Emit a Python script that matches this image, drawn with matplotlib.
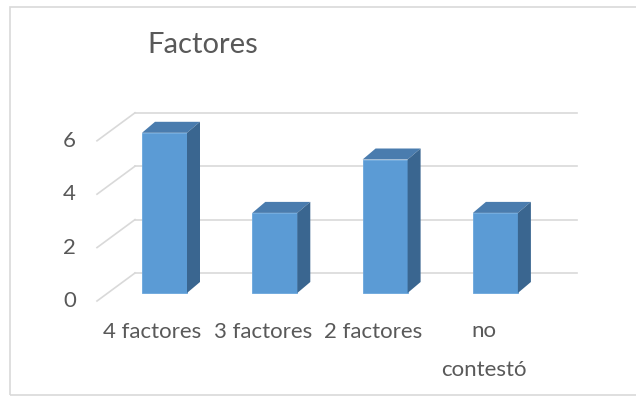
import matplotlib.pyplot as plt
from matplotlib.patches import Polygon, Rectangle
from matplotlib.lines import Line2D

plt.rcParams['font.family'] = ['Lato', 'DejaVu Sans']

# data
title = 'Factores'
categories = ['4 factores', '3 factores', '2 factores', 'no\ncontestó']
values = [6, 3, 5, 3]
ticks = [0, 2, 4, 6]

front_color = '#5B9BD5'
top_color = '#4A7CAE'
side_color = '#3A6690'
grid_color = '#D9D9D9'
text_color = '#595959'

W, H = 636, 396
fig = plt.figure(figsize=(W / 100, H / 100), dpi=100)
ax = fig.add_axes([0, 0, 1, 1])
ax.set_axis_off()

# pixel layout -> data scale: category step and value step in pixels
x0_px, step_px = 164.5, 110.3
y0_px, unit_px = H - 293, 26.7
ax.set_xlim((0 - x0_px) / step_px, (W - x0_px) / step_px)
ax.set_ylim((0 - y0_px) / unit_px, (H - y0_px) / unit_px)

# 3d depth offsets (data units)
bar_w = 45 / step_px
bar_dx, bar_dy = 13 / step_px, 11 / unit_px
wall_dy = 20 / unit_px                     # back wall above bar front
floor_dy = -8 / unit_px                    # front floor edge below bar front
wall_left, wall_right = (135 - x0_px) / step_px, (577 - x0_px) / step_px
front_left = (97 - x0_px) / step_px

# gridlines: back wall + slanted left wall
for t in ticks:
    ax.add_line(Line2D([wall_left, wall_right], [t + wall_dy, t + wall_dy],
                       color=grid_color, lw=1.2, zorder=1))
    ax.add_line(Line2D([front_left, wall_left], [t + floor_dy, t + wall_dy],
                       color=grid_color, lw=1.2, zorder=1))
    ax.text(front_left - 0.25, t + floor_dy, str(t), ha='center', va='center',
            fontsize=16, color=text_color)

# bars
xs = list(range(len(values)))
ax.bar(xs, values, width=bar_w, color=front_color, edgecolor='#6AA6DC',
       linewidth=0.6, zorder=3)
for x, v in zip(xs, values):
    l, r = x - bar_w / 2, x + bar_w / 2
    top = [(l, v), (r, v), (r + bar_dx, v + bar_dy), (l + bar_dx, v + bar_dy)]
    side = [(r, 0), (r + bar_dx, bar_dy), (r + bar_dx, v + bar_dy), (r, v)]
    ax.add_patch(Polygon(top, closed=True, fc=top_color, ec='none', zorder=3))
    ax.add_patch(Polygon(side, closed=True, fc=side_color, ec='none', zorder=3))

# category labels
label_dx = -12 / step_px
label_y = (H - 332 - y0_px) / unit_px
wrap_y = (H - 321 - y0_px) / unit_px
for x, c in zip(xs, categories):
    if '\n' in c:
        ax.text(x + label_dx, wrap_y, c, ha='center', va='top',
                fontsize=16, color=text_color, linespacing=2.2)
    else:
        ax.text(x + label_dx, label_y, c, ha='center', va='center',
                fontsize=16, color=text_color)

fig.text(203 / W, 1 - 45 / H, title, ha='center', va='center', fontsize=21,
         color=text_color)

# chart frame
fig.patches.append(Rectangle((10 / W, 1 / H), 1.0, 1 - 8 / H, transform=fig.transFigure,
                             fill=False, ec=grid_color, lw=1.2))

fig.savefig('out.png', dpi=100, facecolor='white')
